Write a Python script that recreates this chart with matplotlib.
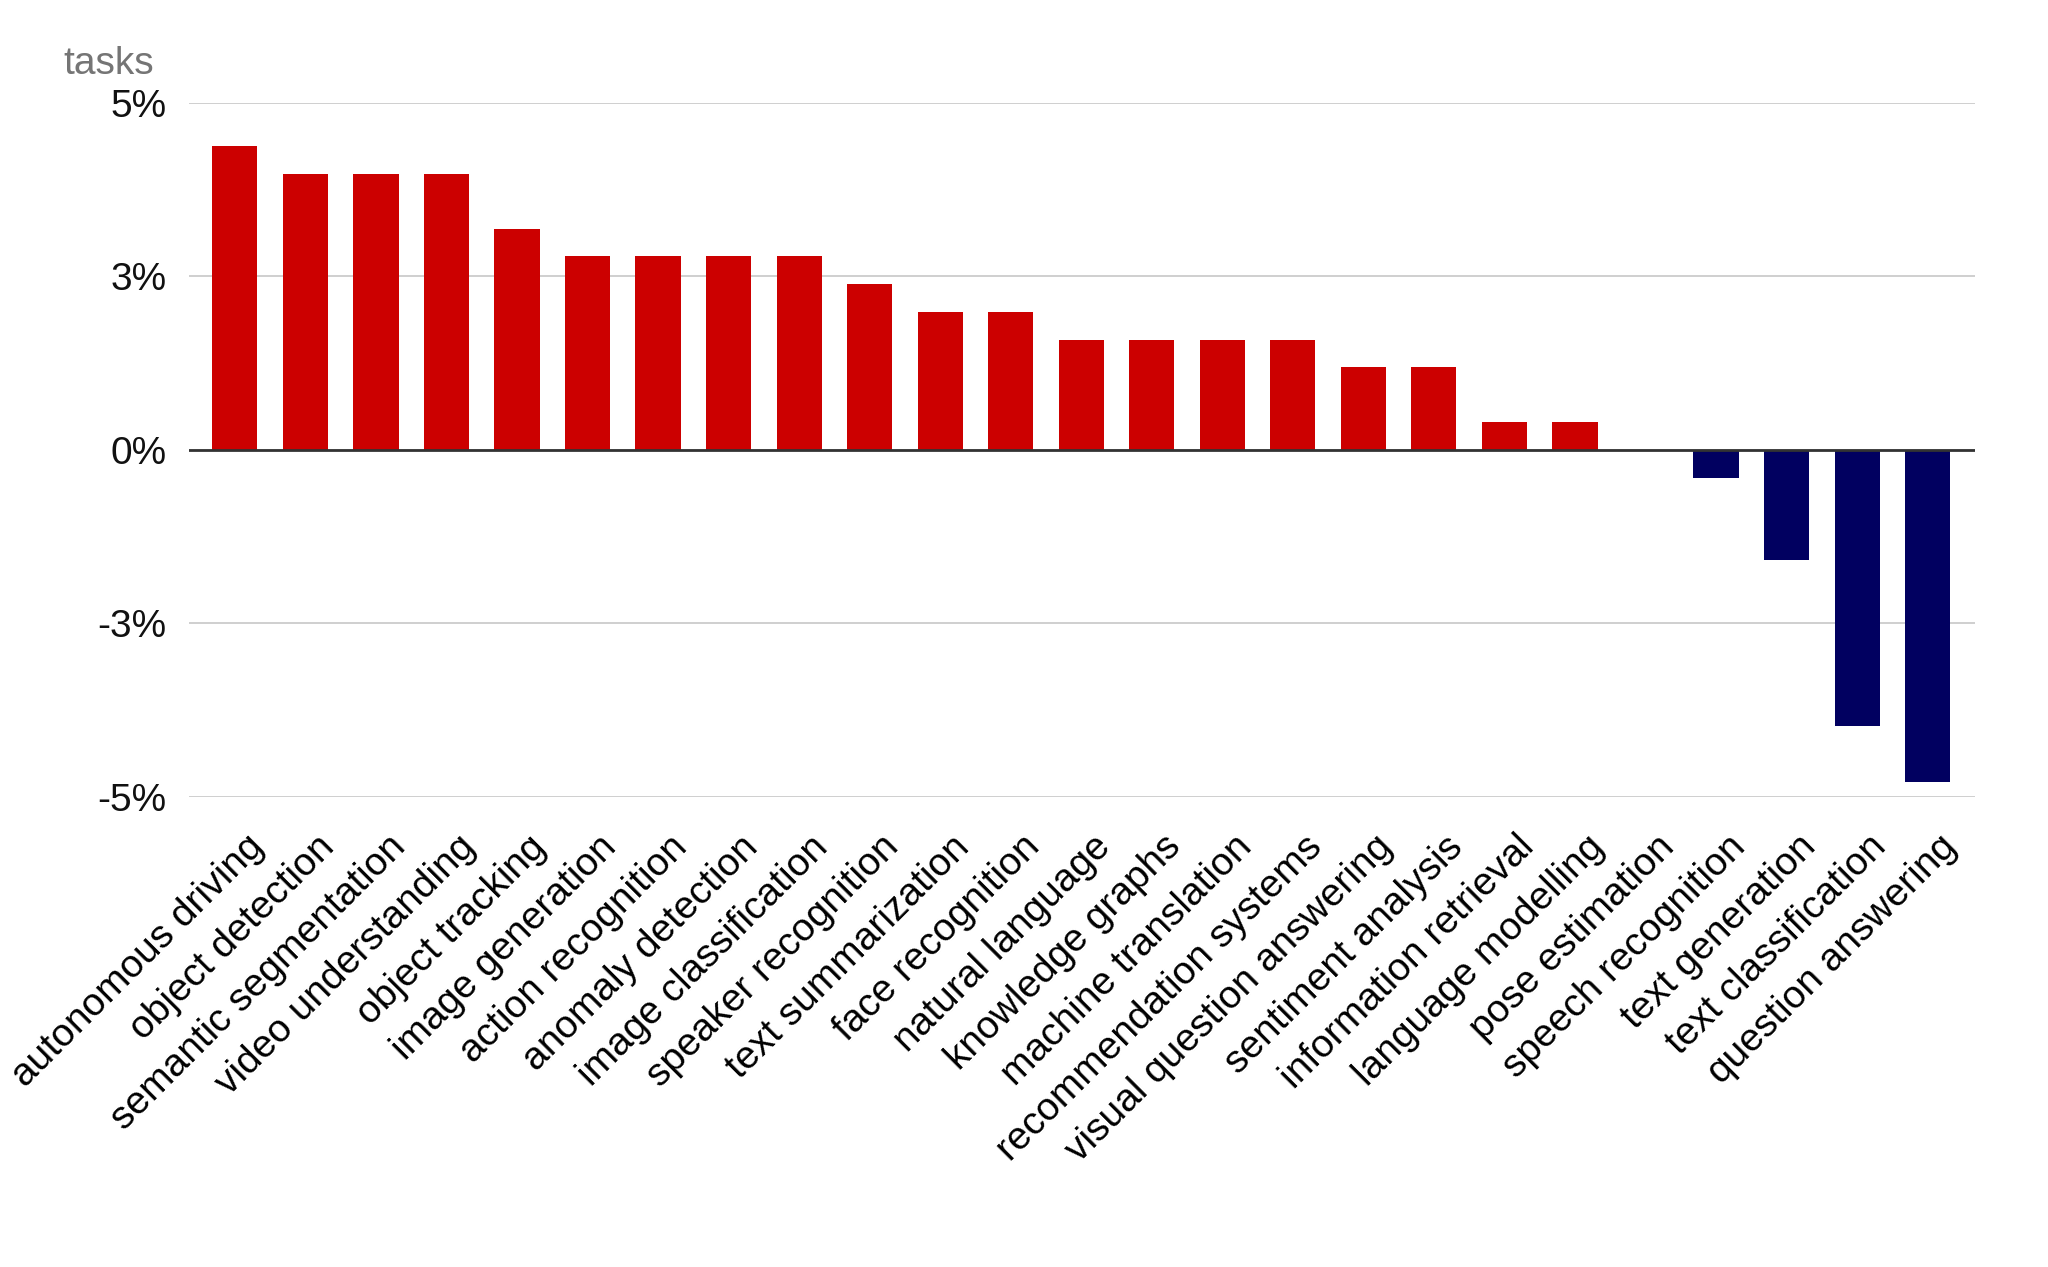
import matplotlib
matplotlib.use("Agg")
import matplotlib.pyplot as plt
import matplotlib.transforms as mtransforms
import numpy as np

plt.rcParams['font.family'] = ['Liberation Sans', 'DejaVu Sans']

# data (percent change per task)
tasks = ['autonomous driving', 'object detection', 'semantic segmentation',
         'video understanding', 'object tracking', 'image generation',
         'action recognition', 'anomaly detection', 'image classification',
         'speaker recognition', 'text summarization', 'face recognition',
         'natural language', 'knowledge graphs', 'machine translation',
         'recommendation systems', 'visual question answering',
         'sentiment analysis', 'information retrieval', 'language modelling',
         'pose estimation', 'speech recognition', 'text generation',
         'text classification', 'question answering']
change = [4.38, 3.98, 3.98, 3.98, 3.19, 2.79, 2.79, 2.79, 2.79, 2.39,
          1.99, 1.99, 1.59, 1.59, 1.59, 1.59, 1.19, 1.19, 0.40, 0.40,
          0.0, -0.40, -1.59, -3.98, -4.78]
yticks = [-5, -2.5, 0, 2.5, 5]
ylabels = ['-5%', '-3%', '0%', '3%', '5%']

RED = '#cc0000'
NAVY = '#010060'

fig = plt.figure(figsize=(20.48, 12.67), dpi=100)
ax = fig.add_axes([0.0923, 0.371, 0.872, 0.5477])

x = np.arange(len(tasks))
colors = [RED if v >= 0 else NAVY for v in change]
ax.bar(x, change, width=0.64, color=colors, zorder=3)

ax.set_ylim(-5, 5)
ax.set_xlim(-0.65, len(tasks) - 0.33)
ax.set_yticks(yticks)
ax.set_yticklabels(ylabels)
ax.grid(axis='y', color='#cccccc', linewidth=1.3, zorder=0)
ax.axhline(0, color='#333333', linewidth=2, zorder=4)

for s in ax.spines.values():
    s.set_visible(False)

ax.tick_params(axis='y', length=0, pad=16, labelsize=28, labelcolor='#111111')
ax.tick_params(axis='x', length=0, pad=23, labelsize=28)

ax.set_xticks(x)
ax.set_xticklabels(tasks, rotation=45, ha='right', va='top',
                   rotation_mode='anchor', color='#000000')
offset = mtransforms.ScaledTranslation(0.11, 0, fig.dpi_scale_trans)
for lab in ax.get_xticklabels():
    lab.set_transform(lab.get_transform() + offset)

fig.text(0.0308, 0.9416, 'tasks', fontsize=28, color='#757575',
         ha='left', va='baseline')

fig.savefig('out.png', dpi=100, facecolor='white')
